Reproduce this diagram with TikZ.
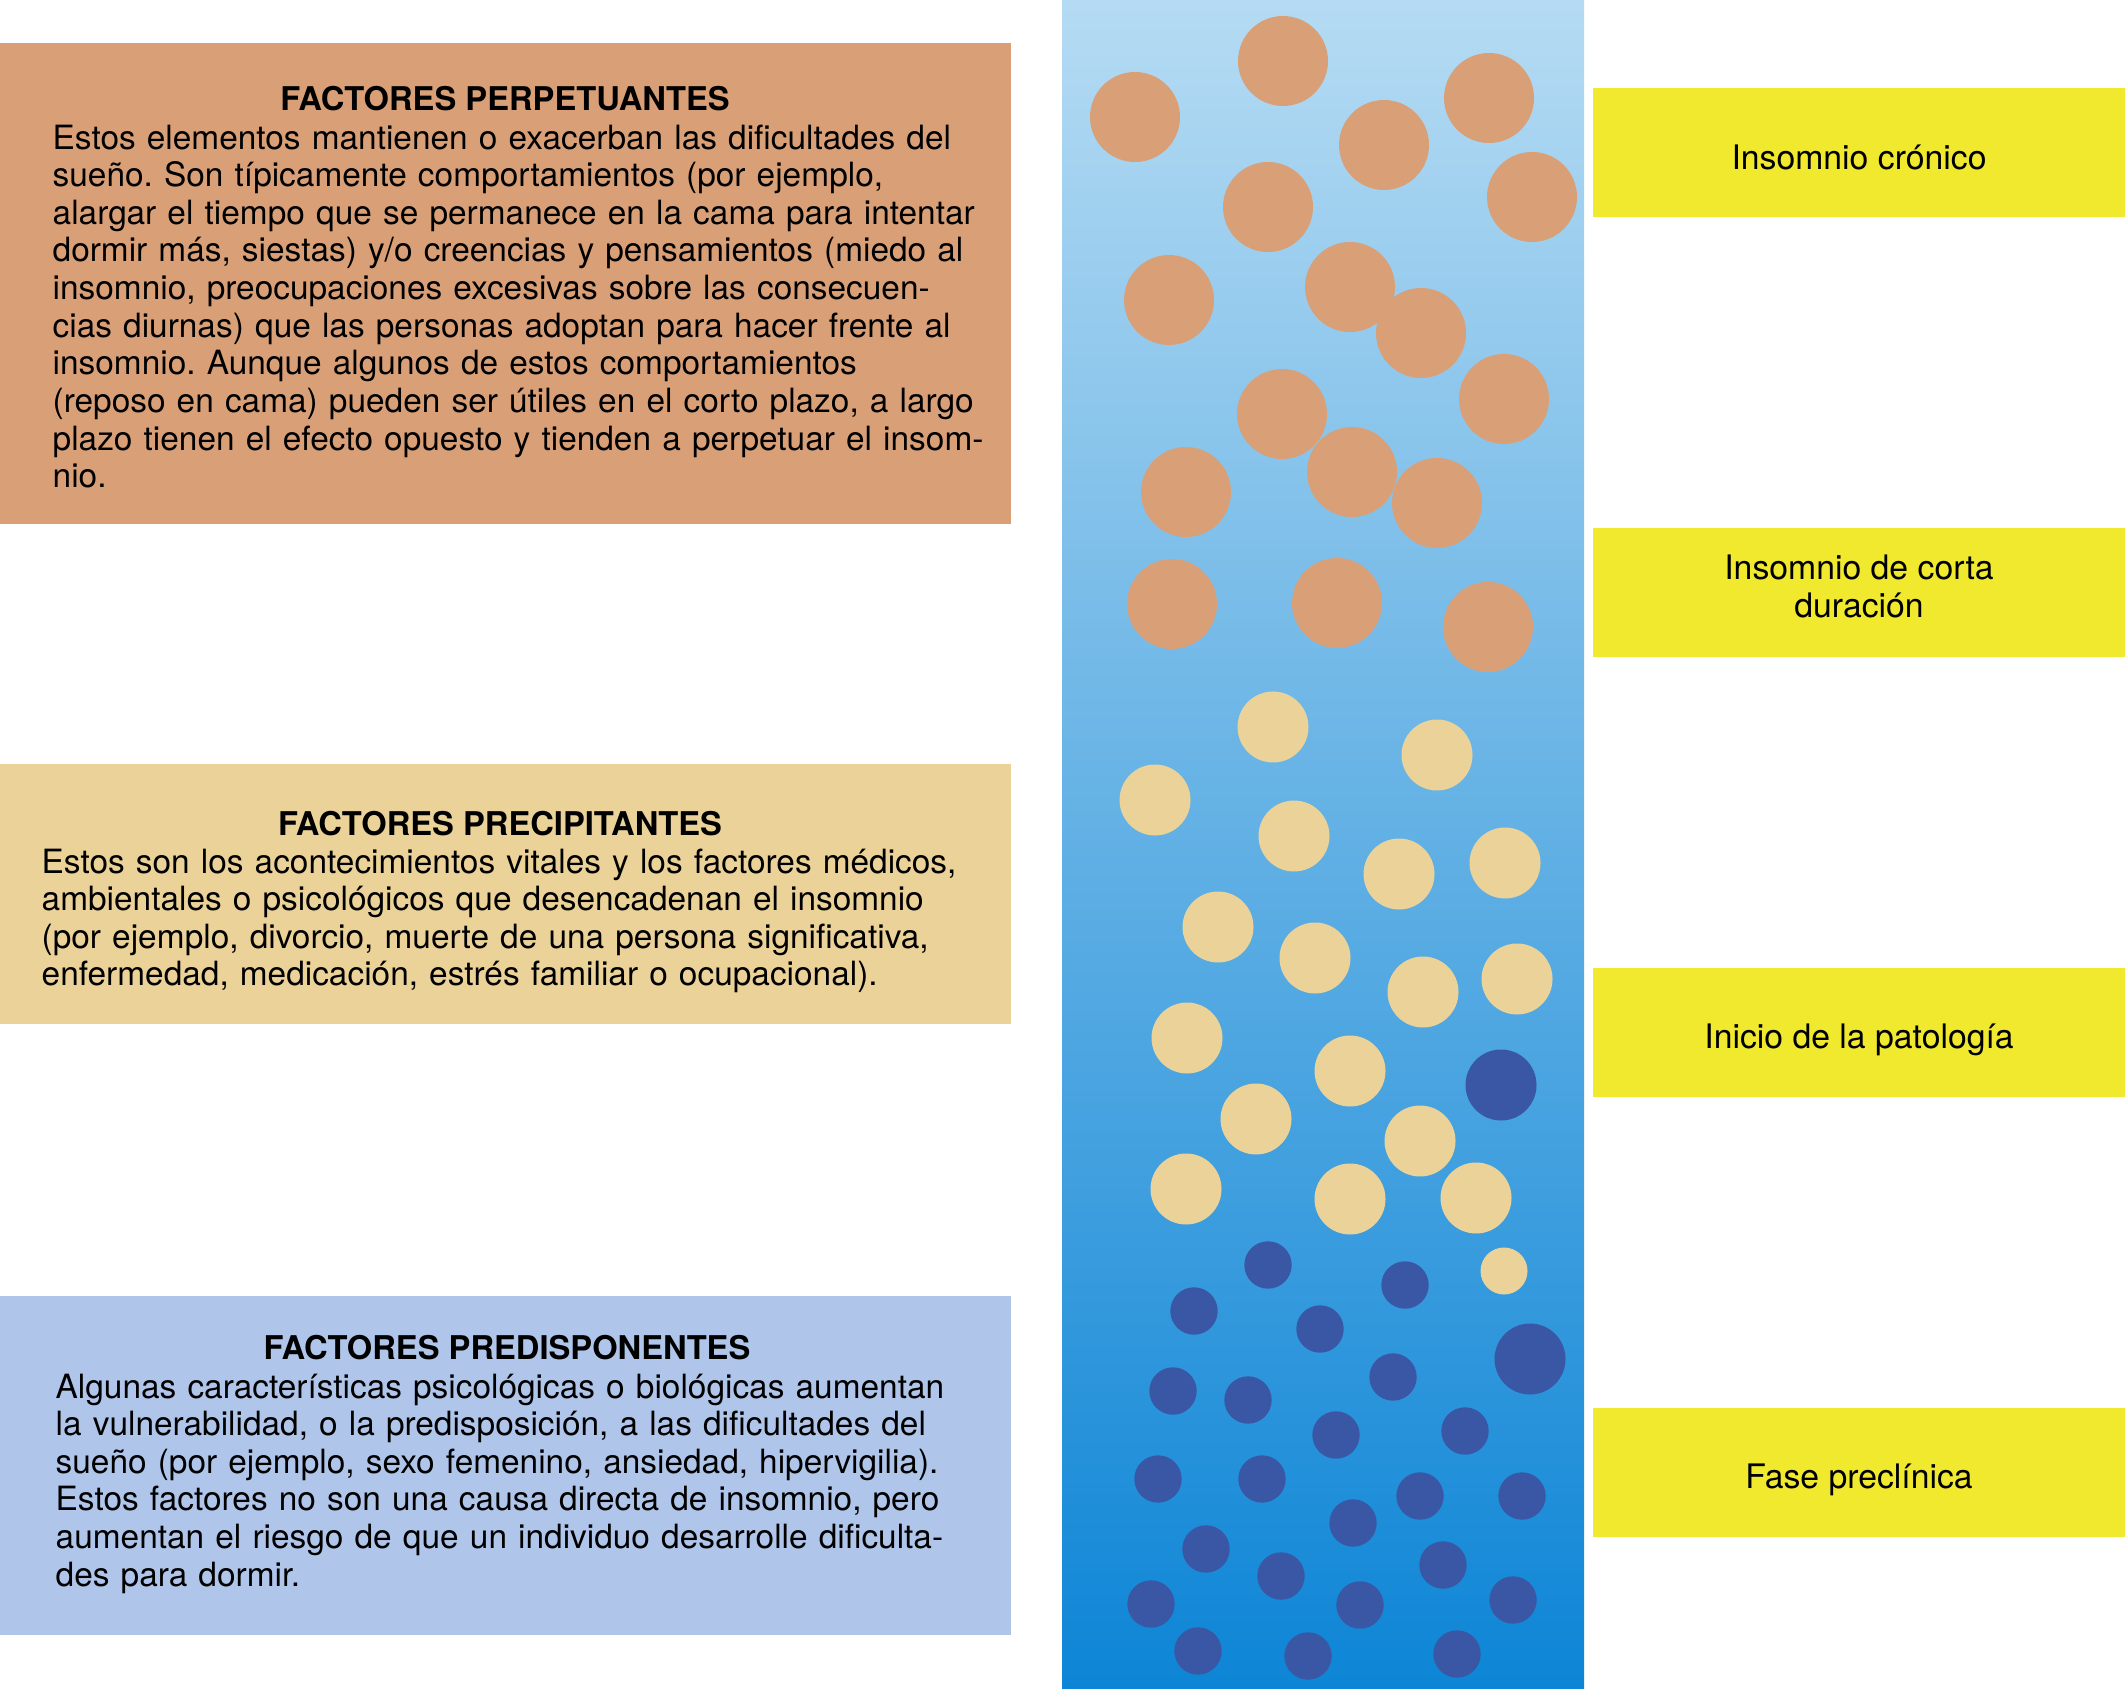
\documentclass[tikz,border=0pt]{standalone}
\usepackage{fontspec}
\setmainfont{TeX Gyre Heros}
\frenchspacing
\definecolor{perpetuante}{HTML}{D9A078}
\definecolor{precipitante}{HTML}{EBD298}
\definecolor{predisponente}{HTML}{AFC5EA}
\definecolor{puntoazul}{HTML}{3A57A5}
\definecolor{amarillo}{HTML}{F0E92E}
\definecolor{barraarriba}{HTML}{B5DBF3}
\definecolor{barraabajo}{HTML}{0D85D6}
% one justified line of a text box
\newcommand{\renglon}[1]{\par\hbox to\hsize{#1}}
\tikzset{
  titulo/.style={anchor=base, inner sep=0pt, font=\fontsize{9.3}{10.7}\selectfont\bfseries},
  cuerpo/.style={anchor=base west, inner sep=0pt, font=\fontsize{9.5}{10.7}\selectfont\frenchspacing},
  fasebox/.style={fill=amarillo, inner sep=0pt, minimum width=5.32cm, minimum height=1.29cm},
  fasetxt/.style={align=center, inner sep=0pt, font=\fontsize{9.6}{10.7}\selectfont},
}
\begin{document}
\begin{tikzpicture}[x=0.01cm, y=-0.01cm]
\useasboundingbox (0,0) rectangle (2125,1689);
% left boxes
\fill[perpetuante] (0,43) rectangle (1011,524);
\fill[precipitante] (0,764) rectangle (1011,1024);
\fill[predisponente] (0,1296) rectangle (1011,1635);
% body nodes: base is one line above the first line
\node[titulo] (perptit) at (505,111) {FACTORES PERPETUANTES};
\node[cuerpo, text width=9.06cm] (perptxt) at (52,111.4) {%
\renglon{Estos elementos mantienen o exacerban las dificultades del}
\renglon{sueño. Son típicamente comportamientos (por ejemplo,}
\renglon{alargar el tiempo que se permanece en la cama para intentar}
\renglon{dormir más, siestas) y/o creencias y pensamientos (miedo al}
\renglon{insomnio, preocupaciones excesivas sobre las consecuen-}
\renglon{cias diurnas) que las personas adoptan para hacer frente al}
\renglon{insomnio. Aunque algunos de estos comportamientos}
\renglon{(reposo en cama) pueden ser útiles en el corto plazo, a largo}
\renglon{plazo tienen el efecto opuesto y tienden a perpetuar el insom-}
\renglon{nio.\hfill}};
\node[titulo] (prectit) at (500,835) {FACTORES PRECIPITANTES};
\node[cuerpo, text width=9.17cm] (prectxt) at (41,835.4) {%
\renglon{Estos son los acontecimientos vitales y los factores médicos,}
\renglon{ambientales o psicológicos que desencadenan el insomnio}
\renglon{(por ejemplo, divorcio, muerte de una persona significativa,}
\renglon{enfermedad, medicación, estrés familiar o ocupacional).\hfill}};
\node[titulo] (predtit) at (507,1359) {FACTORES PREDISPONENTES};
\node[cuerpo, text width=9.03cm] (predtxt) at (55,1360.4) {%
\renglon{Algunas características psicológicas o biológicas aumentan}
\renglon{la vulnerabilidad, o la predisposición, a las dificultades del}
\renglon{sueño (por ejemplo, sexo femenino, ansiedad, hipervigilia).}
\renglon{Estos factores no son una causa directa de insomnio, pero}
\renglon{aumentan el riesgo de que un individuo desarrolle dificulta-}
\renglon{des para dormir.\hfill}};
% gradient bar
\shade[top color=barraarriba, bottom color=barraabajo] (1062,0) rectangle (1584,1689);
\foreach \cx/\cy in {1135/117,1283/61,1489/98,1384/145,1268/207,1532/197,1169/300,1350/287,
  1421/333,1504/399,1282/414,1186/492,1352/472,1437/503,1172/604,1337/603,1488/627}
  \fill[perpetuante] (\cx,\cy) circle[radius=45];
\foreach \cx/\cy in {1273/727,1437/755,1155/800,1294/836,1399/874,1505/863,1218/927,1315/958,
  1423/992,1517/979,1187/1038,1350/1071,1256/1119,1420/1141,1186/1189,1350/1199,1476/1198}
  \fill[precipitante] (\cx,\cy) circle[radius=35.5];
\fill[precipitante] (1504,1271) circle[radius=23.5];
\foreach \cx/\cy in {1268/1265,1405/1285,1194/1311,1320/1329,1393/1377,1173/1391,1248/1400,
  1336/1435,1465/1431,1158/1479,1262/1479,1420/1496,1522/1496,1353/1523,1206/1549,1281/1576,
  1443/1565,1360/1605,1151/1604,1513/1600,1198/1651,1308/1656,1457/1654}
  \fill[puntoazul] (\cx,\cy) circle[radius=23.7];
\fill[puntoazul] (1501,1085) circle[radius=35.5];
\fill[puntoazul] (1530,1359) circle[radius=35.5];
% stages
\node[fasebox] (cronico) at (1859,152.5) {};
\node[fasebox] (corta) at (1859,592.5) {};
\node[fasebox] (inicio) at (1859,1032.5) {};
\node[fasebox] (preclin) at (1859,1472.5) {};
\node[fasetxt] (cronicotxt) at ([yshift=-1.5pt]cronico.center) {Insomnio crónico};
\node[fasetxt] (cortatxt) at ([yshift=1.7pt]corta.center) {Insomnio de corta\\duración};
\node[fasetxt] (iniciotxt) at ([yshift=-2pt]inicio.center) {Inicio de la patología};
\node[fasetxt] (preclintxt) at ([yshift=-2pt]preclin.center) {Fase preclínica};
\end{tikzpicture}
\end{document}
